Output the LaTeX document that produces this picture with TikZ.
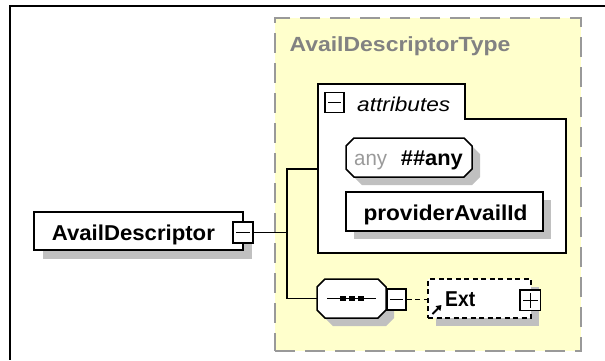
\documentclass[tikz,border=0pt]{standalone}
\usepackage{fontspec}
\setmainfont{Liberation Sans}
\usepackage{graphicx}
\usetikzlibrary{arrows.meta}
\definecolor{yel}{HTML}{FFFFCC}
\definecolor{dashgray}{HTML}{999999}
\definecolor{titlegray}{HTML}{828282}
\definecolor{shgray}{HTML}{C0C0C0}
\definecolor{anygray}{HTML}{9A9A9A}
\newcommand\fitw[2]{\resizebox{#1}{\height}{#2}}
\newcommand\octshape[5]{({#1+#5},#2) -- ({#3-#5},#2) -- (#3,{#2+#5}) -- (#3,{#4-#5}) -- ({#3-#5},#4) -- ({#1+#5},#4) -- (#1,{#4-#5}) -- (#1,{#2+#5}) -- cycle}
\tikzset{
  boxline/.style={draw=black, line width=1.5pt},
  elembox/.style={boxline, fill=white, inner sep=0pt, rectangle},
  anchorbox/.style={draw=none, inner sep=0pt, rectangle},
  shadowfill/.style={fill=shgray, draw=none},
  conn/.style={draw=black, line width=1.5pt},
  lbl/.style={anchor=base west, inner sep=0pt, font=\bfseries\fontsize{21.5}{24}\selectfont},
  minusbox/.style={elembox, path picture={\draw[line width=1.4pt] ([xshift=3pt]path picture bounding box.west) -- ([xshift=-3pt]path picture bounding box.east);}},
  plusbox/.style={elembox, path picture={\draw[line width=1.4pt] ([xshift=3pt]path picture bounding box.west) -- ([xshift=-3pt]path picture bounding box.east); \draw[line width=1.4pt] ([yshift=-3pt]path picture bounding box.north) -- ([yshift=3pt]path picture bounding box.south);}},
}
\begin{document}
\begin{tikzpicture}[x=1pt, y=-1pt]
\useasboundingbox (0,0) rectangle (605,360);
% outer frame
\draw[line width=1.2pt] (10,6) -- (605,6);
\draw[line width=2.6pt] (10,5.4) -- (10,360);
% complex type box
\node[rectangle, inner sep=0pt, fill=yel, draw=dashgray, line width=2pt, dash pattern=on 20pt off 10pt, minimum width=306pt, minimum height=333pt] (typ) at (428,184.5) {};
\node[anchor=base west, inner sep=0pt, text=titlegray, font=\bfseries\fontsize{20.5}{22}\selectfont] (ttl) at (289.3,51.5) {\fitw{221pt}{AvailDescriptorType}};
% connector junctions
\coordinate (j1) at (287,169);
\coordinate (j2) at (287,298.5);
% attributes group
\node[anchorbox, minimum width=248pt, minimum height=169pt] (attr) at (442,168.5) {};
\draw[boxline, fill=white] (318,84) -- (465,84) -- (465,119) -- (566,119) -- (566,253) -- (318,253) -- cycle;
\node[minusbox, minimum width=19pt, minimum height=20pt] (attrm) at (334.5,102.5) {};
\node[anchor=base west, inner sep=0pt, font=\itshape\fontsize{20}{22}\selectfont] (attrt) at (357,111) {\fitw{93pt}{attributes}};
% any attribute
\fill[shgray] \octshape{354}{146}{480}{185}{8};
\draw[boxline, fill=white] \octshape{346}{138}{472}{177}{8};
\node[anchorbox, minimum width=126pt, minimum height=39pt] (any) at (409,157.5) {};
\node[anchor=base west, inner sep=0pt, text=anygray, font=\fontsize{21}{24}\selectfont] (anyk) at (354,165.5) {\fitw{33pt}{any}};
\node[lbl] (anyv) at (400.7,165.5) {\fitw{62pt}{\#\#any}};
% providerAvailId
\fill[shgray] (354,200) rectangle (551,239);
\node[elembox, minimum width=197pt, minimum height=39pt] (pai) at (444.5,211.5) {};
\node[lbl] (pait) at (363.3,220) {\fitw{164pt}{providerAvailId}};
% AvailDescriptor
\fill[shgray] (43,221) rectangle (252,259);
\node[elembox, minimum width=209pt, minimum height=38pt] (ad) at (138.5,231) {};
\node[lbl] (adt) at (51.7,240) {\fitw{163pt}{AvailDescriptor}};
\node[minusbox, minimum width=20pt, minimum height=21pt] (adm) at (243,232.5) {};
% sequence compositor
\fill[shgray] \octshape{325}{287}{394}{326}{8};
\draw[boxline, fill=white] \octshape{317}{279}{386}{318}{8};
\node[anchorbox, minimum width=69pt, minimum height=39pt] (seq) at (351.5,298.5) {};
\draw[line width=1.4pt] (327,298.5) -- (376,298.5);
\foreach \cx in {343,352,361} \fill (\cx-2.8,295.7) rectangle (\cx+2.8,301.3);
\node[minusbox, minimum width=19pt, minimum height=21pt] (seqm) at (396.5,299.5) {};
% Ext
\fill[shgray] (436,287) rectangle (539,326);
\node[elembox, dash pattern=on 5pt off 3.5pt, minimum width=103pt, minimum height=39pt] (ext) at (479.5,298.5) {};
\node[lbl] (extt) at (445,306.5) {\fitw{30pt}{Ext}};
\node[plusbox, minimum width=20.5pt, minimum height=20.5pt] (extp) at (530.3,300.3) {};
\draw[line width=1.8pt, -{Triangle[length=5pt,width=6.5pt]}] (432.5,314) -- (441.5,305);
% connectors
\draw[conn] (adm.east) -- (adm.east -| j1);
\draw[conn] (attr.west |- j1) -- (j1) -- (j2) -- (seq.west |- j2);
\draw[conn, dash pattern=on 5pt off 3.5pt] (seqm.east) -- (seqm.east -| ext.west);
\end{tikzpicture}
\end{document}
